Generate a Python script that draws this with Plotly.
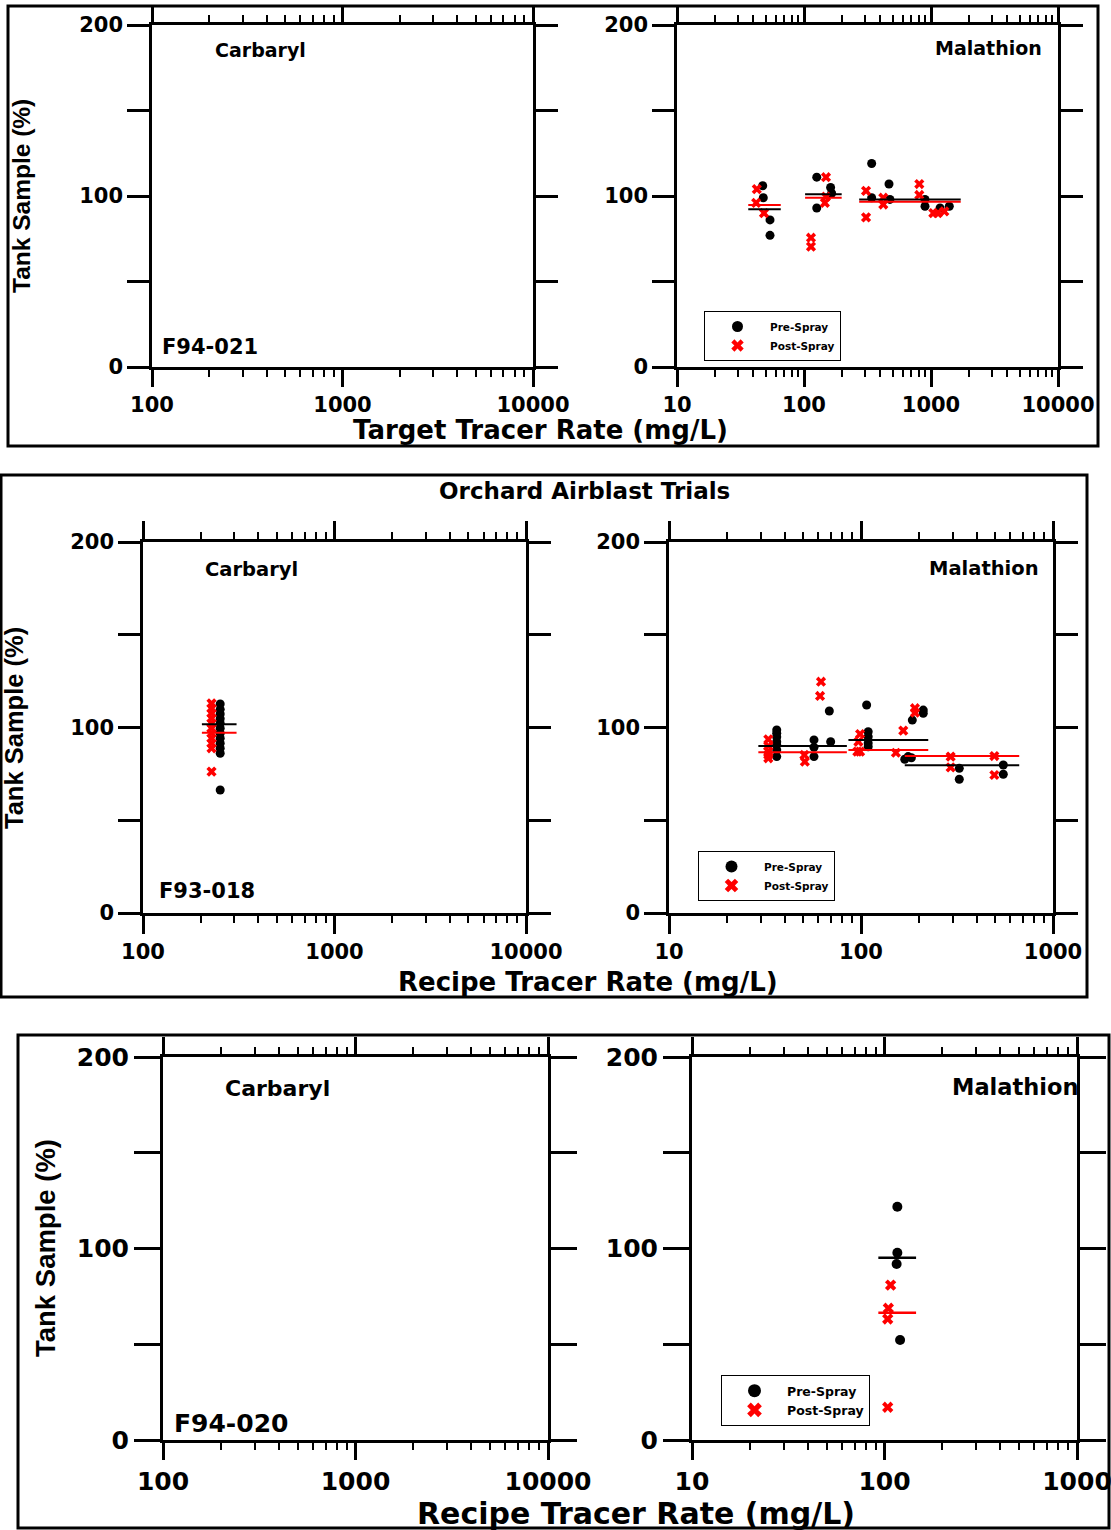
import plotly.graph_objects as go

W, H = 1111, 1530

# ---------------- data ----------------
# Panel 1: F94-021, Malathion (Target Tracer Rate)
f94021_pre_x = [47.3, 47.8, 54, 54, 126, 162, 165, 126, 341, 341, 467, 475, 897, 897, 1178, 1393]
f94021_pre_y = [106, 99, 86, 77, 111, 105, 101.6, 93, 119, 99, 107, 98, 98, 94, 93, 94]
f94021_post_x = [42.5, 42, 48.4, 149, 149, 146, 113.5, 113.5, 308, 308, 421, 421, 809, 809, 1043, 1130, 1274]
f94021_post_y = [104, 96, 90, 111, 99.6, 96, 75.6, 70.4, 103, 87.5, 99, 95, 107, 100.6, 90, 90, 91]
f94021_mean_x0 = [36.4, 102, 272]
f94021_mean_x1 = [65.6, 198, 1714]
f94021_pre_mean = [92.2, 101, 98]
f94021_post_mean = [94.7, 99, 96.7]

# Panel 2: F93-018, Carbaryl (Recipe Tracer Rate)
f93018c_pre_x = [253] * 12
f93018c_pre_y = [112.7, 109.8, 107.3, 104.7, 102.3, 99.6, 96.9, 94.2, 91.5, 88.8, 86.1, 66.3]
f93018c_post_x = [228] * 11
f93018c_post_y = [113, 110.3, 107.7, 105, 102.3, 99.6, 96.9, 94.2, 91.5, 88.8, 76.2]
f93018c_mean_x0 = [203]
f93018c_mean_x1 = [308]
f93018c_pre_mean = [101.7]
f93018c_post_mean = [97.2]

# Panel 2: F93-018, Malathion
f93018m_pre_x = [36.4, 36.4, 36.4, 36.4, 36.4, 36.4, 36.4, 56.9, 56.9, 56.9, 68.4, 69.5, 107,
                 109, 109, 109, 109, 185, 211, 211, 169, 176, 183, 325, 325, 551, 551]
f93018m_pre_y = [98.7, 96.9, 94.9, 92.3, 90.6, 87.9, 84.3, 93.3, 89.3, 84.3, 108.9, 92.3, 112.1,
                 97.7, 95, 91.6, 89.6, 104, 109.4, 107.7, 82.9, 84.3, 83.7, 78, 72.1, 79.8, 74.8]
f93018m_post_x = [32.9, 32.9, 32.9, 32.9, 32.9, 50.7, 51, 61.9, 61.2, 98.9, 96.9, 98.9, 95.7,
                  152, 166, 191, 191, 293, 293, 495, 495]
f93018m_post_y = [93.6, 90, 87, 85.2, 83.4, 85.2, 81.6, 124.7, 117, 96.5, 92.3, 87, 87,
                  86.4, 98.3, 110.4, 108, 84.3, 78.5, 84.6, 74.4]
f93018m_mean_x0 = [29.2, 86, 169]
f93018m_mean_x1 = [84.4, 224, 667]
f93018m_pre_mean = [90, 93.3, 79.6]
f93018m_post_mean = [86.6, 87.9, 84.6]

# Panel 3: F94-020, Malathion
f94020_pre_x = [116.6, 116.6, 115.6, 120.5]
f94020_pre_y = [121.8, 97.8, 91.9, 52.2]
f94020_post_x = [107.6, 104.7, 103.9, 103.9]
f94020_post_y = [80.9, 68.8, 63.2, 17.1]
f94020_mean_x0 = [92.9]
f94020_mean_x1 = [145.9]
f94020_pre_mean = [95.2]
f94020_post_mean = [66.5]

y_tickvals = [0, 50, 100, 150, 200]
y_ticktext = ["0", "", "100", "", "200"]

# ---------------- helpers ----------------
def px(x):
    return x / W


def py(y):
    return 1 - y / H


FONT = "DejaVu Sans"
VFONT = "Liberation Sans, Arial"

fig = go.Figure()


def seg_xy(x0s, x1s, ys):
    xs, yv = [], []
    for a, b, v in zip(x0s, x1s, ys):
        xs += [a, b, None]
        yv += [v, v, None]
    return xs, yv


def add_group(k, pre_x, pre_y, post_x, post_y, mx0, mx1, pre_m, post_m, msize, lw,
              legend=None, lsize=12):
    fig.add_trace(go.Scatter(x=pre_x, y=pre_y, mode="markers", name="Pre-Spray",
                             marker=dict(symbol="circle", size=msize, color="black"),
                             xaxis=f"x{k}", yaxis=f"y{k}", showlegend=False))
    fig.add_trace(go.Scatter(x=post_x, y=post_y, mode="markers", name="Post-Spray",
                             marker=dict(symbol="x", size=msize, color="#ff0000",
                                         line=dict(width=0)),
                             xaxis=f"x{k}", yaxis=f"y{k}", showlegend=False))
    lx, ly = seg_xy(mx0, mx1, pre_m)
    fig.add_trace(go.Scatter(x=lx, y=ly, mode="lines", line=dict(color="black", width=lw),
                             xaxis=f"x{k}", yaxis=f"y{k}", showlegend=False))
    lx, ly = seg_xy(mx0, mx1, post_m)
    fig.add_trace(go.Scatter(x=lx, y=ly, mode="lines", line=dict(color="#ff0000", width=lw),
                             xaxis=f"x{k}", yaxis=f"y{k}", showlegend=False))
    if legend is not None:
        # legend keys (same series styles, drawn at legend size)
        fig.add_trace(go.Scatter(x=[None], y=[None], mode="markers", name="Pre-Spray",
                                 marker=dict(symbol="circle", size=lsize, color="black"),
                                 xaxis=f"x{k}", yaxis=f"y{k}", legend=legend))
        fig.add_trace(go.Scatter(x=[None], y=[None], mode="markers", name="Post-Spray",
                                 marker=dict(symbol="x", size=lsize, color="#ff0000",
                                             line=dict(width=0)),
                                 xaxis=f"x{k}", yaxis=f"y{k}", legend=legend))


def add_empty(k):
    fig.add_trace(go.Scatter(x=[], y=[], mode="markers", xaxis=f"x{k}", yaxis=f"y{k}",
                             showlegend=False))


# panel 1
add_empty(1)
add_group(2, f94021_pre_x, f94021_pre_y, f94021_post_x, f94021_post_y,
          f94021_mean_x0, f94021_mean_x1, f94021_pre_mean, f94021_post_mean, 9, 2, "legend", 11)
# panel 2
add_group(3, f93018c_pre_x, f93018c_pre_y, f93018c_post_x, f93018c_post_y,
          f93018c_mean_x0, f93018c_mean_x1, f93018c_pre_mean, f93018c_post_mean, 9, 2)
add_group(4, f93018m_pre_x, f93018m_pre_y, f93018m_post_x, f93018m_post_y,
          f93018m_mean_x0, f93018m_mean_x1, f93018m_pre_mean, f93018m_post_mean, 9, 2, "legend2", 12)
# panel 3
add_empty(5)
add_group(6, f94020_pre_x, f94020_pre_y, f94020_post_x, f94020_post_y,
          f94020_mean_x0, f94020_mean_x1, f94020_pre_mean, f94020_post_mean, 10, 2.5, "legend3", 13)

# ---------------- axes ----------------
axes_spec = [
    # k, x px domain, y px (bottom, top), log range, tick font, ylen, xlen, minor len, lw
    (1, (152, 533), (367, 25), (2, 4), 21, 22, 17, 7, 2.5),
    (2, (677, 1058), (367, 25), (1, 4), 21, 22, 17, 7, 2.5),
    (3, (143, 526), (913, 542), (2, 4), 21, 22, 18, 7, 2.5),
    (4, (669, 1053), (913, 542), (1, 3), 21, 22, 18, 7, 2.5),
    (5, (163, 548), (1440, 1057), (2, 4), 25, 26, 17, 7, 3),
    (6, (692, 1077), (1440, 1057), (1, 3), 25, 26, 17, 7, 3),
]

lay = {}
for k, xd, yd, xr, fs, ylen, xlen, mlen, lw in axes_spec:
    major = [10 ** d for d in range(xr[0], xr[1] + 1)]
    minor = [m * 10 ** d for d in range(xr[0], xr[1]) for m in range(2, 10)]
    tf = dict(family=FONT, size=fs, color="black", weight="bold")
    lay[f"xaxis{k}"] = dict(
        type="log", range=list(xr), domain=[px(xd[0]), px(xd[1])], anchor=f"y{k}",
        automargin=False, ticklabeloverflow="allow",
        tickmode="array", tickvals=major, ticktext=[str(v) for v in major],
        ticks="outside", ticklen=xlen, tickwidth=lw, tickcolor="black",
        showline=True, linewidth=lw, linecolor="black", mirror="ticks",
        showgrid=False, zeroline=False, tickfont=tf,
        minor=dict(tickmode="array", tickvals=minor, ticks="outside", ticklen=mlen,
                   tickwidth=2, tickcolor="black", showgrid=False),
    )
    lay[f"yaxis{k}"] = dict(
        range=[0, 200], domain=[py(yd[0]), py(yd[1])], anchor=f"x{k}",
        automargin=False, ticklabeloverflow="allow",
        tickmode="array", tickvals=y_tickvals, ticktext=y_ticktext,
        ticks="outside", ticklen=ylen, tickwidth=lw, tickcolor="black",
        showline=True, linewidth=lw, linecolor="black", mirror="ticks",
        showgrid=False, zeroline=False, tickfont=tf,
    )

# ---------------- annotations ----------------
ann = []


def text(t, x, y, size, xanchor="center", family=FONT, angle=0):
    ann.append(dict(text=t, x=px(x), y=py(y), xref="paper", yref="paper",
                    xanchor=xanchor, yanchor="middle", showarrow=False, textangle=angle,
                    font=dict(family=family, size=size, color="black", weight="bold")))


# panel 1
text("Carbaryl", 260, 50, 19)
text("F94-021", 160, 347, 21, "left")
text("Malathion", 1044, 48, 19, "right")
text("Tank Sample (%)", 22, 196, 24.5, family=VFONT, angle=-90)
text("Target Tracer Rate (mg/L)", 540, 430, 26)
# panel 2
text("Orchard Airblast Trials", 584, 491, 23)
text("Carbaryl", 251, 569, 19.5)
text("Malathion", 1041, 568, 19.5, "right")
text("F93-018", 157, 891, 21, "left")
text("Tank Sample (%)", 14, 728, 25.5, family=VFONT, angle=-90)
text("Recipe Tracer Rate (mg/L)", 588, 982, 26)
# panel 3
text("Carbaryl", 277, 1088, 22)
text("Malathion", 1080, 1087, 22.5, "right")
text("F94-020", 172, 1423, 25, "left")
text("Tank Sample (%)", 45, 1248, 27.5, family=VFONT, angle=-90)
text("Recipe Tracer Rate (mg/L)", 636, 1513, 30)

# ---------------- panel frames ----------------
shapes = []
for (x0, y0, x1, y1) in [(8, 6, 1098, 446), (1, 475, 1087, 997), (18, 1035, 1109, 1528)]:
    shapes.append(dict(type="rect", xref="paper", yref="paper",
                       x0=px(x0), x1=px(x1), y0=py(y1), y1=py(y0),
                       line=dict(color="black", width=3), fillcolor="rgba(0,0,0,0)"))


def leg(x, y, size):
    return dict(x=px(x), y=py(y), xanchor="left", yanchor="top", bgcolor="white",
                bordercolor="black", borderwidth=1, itemwidth=55, tracegroupgap=0,
                font=dict(family=FONT, size=size, color="black", weight="bold"))


fig.update_layout(
    template="none",
    width=W, height=H, margin=dict(l=0, r=0, t=0, b=0, pad=0, autoexpand=False),
    paper_bgcolor="white", plot_bgcolor="white",
    font=dict(family=FONT, color="black"),
    annotations=ann, shapes=shapes,
    legend=leg(704, 311, 10.5),
    legend2=leg(698, 851, 10.5),
    legend3=leg(721, 1375, 12.5),
    **lay,
)

fig.write_html("out.html", config={"displayModeBar": False},
               post_script="document.body.style.margin='0px';")
